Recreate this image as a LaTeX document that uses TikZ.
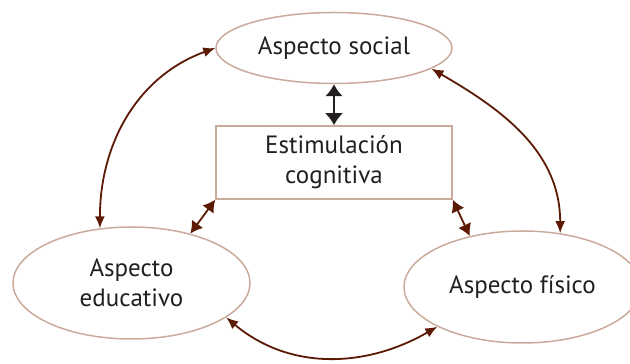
\documentclass[tikz,border=0pt]{standalone}
\usepackage{fontspec}
\setmainfont{PT Sans}
\usetikzlibrary{arrows.meta, shapes.geometric, positioning}
\definecolor{rim}{RGB}{201,170,155}
\definecolor{rust}{RGB}{92,26,5}
\definecolor{ink}{RGB}{35,31,32}

\tikzset{
  aspect/.style={ellipse, draw=rim, line width=1.5pt, inner sep=0pt, text=ink, align=center, font=\fontsize{25}{30}\selectfont},
  link/.style={rust, line width=1.8pt, {Latex[length=12pt,width=10pt]}-{Latex[length=12pt,width=10pt]}},
  bighead/.style={{Latex[length=12pt,width=14pt]}-{Latex[length=12pt,width=14pt]}},
}

\begin{document}
\begin{tikzpicture}[x=1pt,y=1pt]
\useasboundingbox (0,0) rectangle (630,364);
%ellipses and box
\node[aspect, minimum width=236, minimum height=71] (soc) at (334,316) {Aspecto social};
\node[draw=rim, line width=1.5pt, text=ink, align=center, font=\fontsize{25}{30}\selectfont,
      minimum width=236, minimum height=73, inner sep=0pt] (cog) at (334,201.5) {Estimulación\\cognitiva};
\node[aspect, minimum width=237, minimum height=112] (edu) at (131.5,81) {Aspecto\\educativo};
\node[aspect, minimum width=237, minimum height=112] (fis) at (522.5,77) {Aspecto físico};
%arrow between social and the box
\draw[ink, line width=2pt, {Latex[length=12pt,width=18pt]}-{Latex[length=12pt,width=18pt]}] (soc.south) -- (cog.north);
%short arrows from the box
\draw[link, bighead] (cog.south west) -- (edu.40);
\draw[link, bighead] (cog.south east) -- (fis.136);
%curved arrows round the outside
\draw[link] (edu.120) to[out=90,in=200] (soc.west);
\draw[link] (soc.-12) to[out=-30,in=90] (fis.55);
\draw[link] (edu.-20) to[out=-40,in=210] (fis.205);
\end{tikzpicture}
\end{document}
